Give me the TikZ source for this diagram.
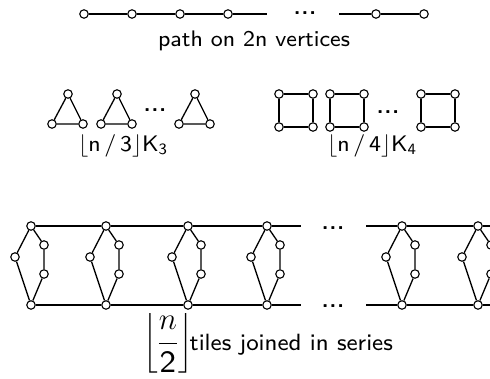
\RequirePackage{fix-cm}
\documentclass[tikz,border=0pt]{standalone}
\usepackage{amsmath}
\usepackage{fontspec}
\setsansfont{lmsans8-regular.otf}[BoldFont=lmsans10-bold.otf]
\newcommand{\mydots}{\textbf{.\kern1pt.\kern1pt.}}
\begin{document}
\begin{tikzpicture}[x=1pt,y=-1pt,
  vtx/.style={circle,draw,fill=white,inner sep=0pt,minimum size=8.5pt,line width=1.1pt},
  edge/.style={line width=1.3pt},
  lbl/.style={font=\sffamily\fontsize{22.5}{26}\selectfont,inner sep=0pt},
  dotsn/.style={font=\sffamily\fontsize{22}{26}\selectfont,inner sep=0pt,anchor=base}]
\useasboundingbox (0,0) rectangle (490,379);
% path
\foreach \i/\x in {1/84,2/132,3/180,4/228,5/376,6/424}
  \node[vtx] (p\i) at (\x,14) {};
\coordinate (pe1) at (267,14);
\coordinate (pe2) at (339,14);
\node[dotsn] (pd) at (305,15) {\mydots};
\draw[edge] (p1)--(p2)--(p3)--(p4)--(pe1);
\draw[edge] (pe2)--(p5)--(p6);
\node[lbl] (plbl) at (254,41) {path on 2n vertices};
% triangles
\foreach \i/\x in {1/68,2/117,3/195}{
  \node[vtx] (t\i a) at (\x,94) {};
  \node[vtx] (t\i b) at (\x-16,124) {};
  \node[vtx] (t\i c) at (\x+15,124) {};
  \draw[edge] (t\i a)--(t\i b)--(t\i c)--(t\i a);
}
\node[dotsn] (td) at (155,111.5) {\mydots};
\node[lbl] (tlbl) at (123,146) {$\lfloor$n\,/\,3$\rfloor$K\textsubscript{3}};
% squares
\foreach \i/\x in {1/279,2/330,3/421}{
  \node[vtx] (s\i a) at (\x,94) {};
  \node[vtx] (s\i b) at (\x+34,94) {};
  \node[vtx] (s\i c) at (\x+34,127) {};
  \node[vtx] (s\i d) at (\x,127) {};
  \draw[edge] (s\i a)--(s\i b)--(s\i c)--(s\i d)--(s\i a);
}
\node[dotsn] (sd) at (388,113.5) {\mydots};
\node[lbl] (slbl) at (372,146) {$\lfloor$n\,/\,4$\rfloor$K\textsubscript{4}};
% tiles
\foreach \i/\x in {1/31,2/106,3/188,4/267,5/402,6/478}{
  \node[vtx] (a\i) at (\x,226) {};
  \node[vtx] (b\i) at (\x,305) {};
  \node[vtx] (l\i) at (\x-16,257) {};
  \node[vtx] (u\i) at (\x+13,245) {};
  \node[vtx] (v\i) at (\x+13,274) {};
  \draw[edge] (a\i)--(l\i)--(b\i)--(v\i)--(u\i)--(a\i);
}
\coordinate (ea) at (301,226);
\coordinate (eb) at (301,305);
\coordinate (fa) at (366,226);
\coordinate (fb) at (366,305);
\coordinate (ga) at (495,226);
\coordinate (gb) at (495,305);
\draw[edge] (a1)--(a2)--(a3)--(a4)--(ea);
\draw[edge] (b1)--(b2)--(b3)--(b4)--(eb);
\draw[edge] (fa)--(a5)--(a6)--(ga);
\draw[edge] (fb)--(b5)--(b6)--(gb);
\node[dotsn] (da) at (333,229.5) {\mydots};
\node[dotsn] (db) at (333,307.5) {\mydots};
\node[lbl,anchor=west] (tiles) at (143,343) {{\fontsize{31}{34}\selectfont$\left\lfloor\rule[-22.2pt]{0pt}{60pt}\dfrac{n}{\textsf{2}}\right\rfloor$}\kern-3pt{\fontsize{23.5}{27}\selectfont tiles joined in series}};
\end{tikzpicture}
\end{document}
